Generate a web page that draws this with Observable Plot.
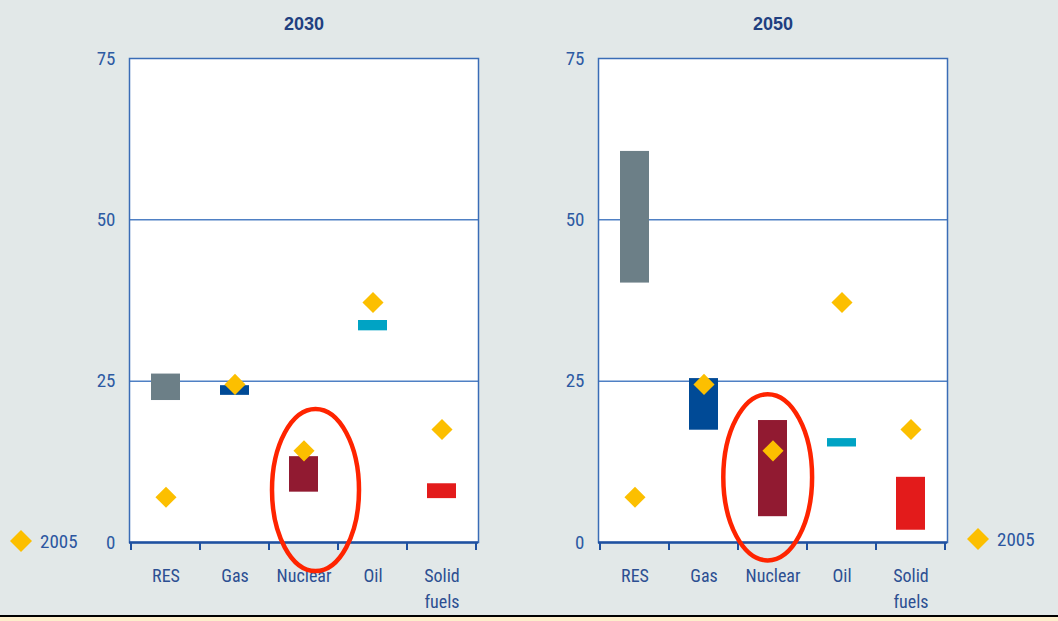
<!DOCTYPE html>
<html>
<head>
<meta charset="utf-8">
<script src="https://cdn.jsdelivr.net/npm/d3@7"></script>
<script src="https://cdn.jsdelivr.net/npm/@observablehq/plot@0.6"></script>
<style>
  html, body { margin: 0; padding: 0; }
  body {
    width: 1058px; height: 621px; position: relative; overflow: hidden;
    background: #e2e8e8;
    font-family: "Liberation Sans Narrow", "Roboto Condensed", Roboto, "Liberation Sans", sans-serif;
  }
  .panel { position: absolute; top: 0; }
  .legend {
    position: absolute; display: flex; align-items: center;
    font-size: 19px; color: #2b56a0; line-height: 1;
  }
  .legend svg { margin-right: 8px; }
  #footer {
    position: absolute; left: 0; top: 615px; width: 1058px; height: 6px;
    box-sizing: border-box; border-top: 2px solid #000; background: #fdeecb;
  }
</style>
</head>
<body>
<div id="left" class="panel" style="left:0px"></div>
<div id="right" class="panel" style="left:529px"></div>
<div class="legend" style="left:10px; top:530px"><svg width="22" height="22"><polygon points="11,0 22,11 11,22 0,11" fill="#fcbf00"/></svg>2005</div>
<div class="legend" style="left:967px; top:528px"><svg width="22" height="22"><polygon points="11,0 22,11 11,22 0,11" fill="#fcbf00"/></svg>2005</div>
<div id="footer"></div>
<script>
// Fuel categories and their axis labels
const categories = ["RES", "Gas", "Nuclear", "Oil", "Solid fuels"];
const tickLabels = ["RES", "Gas", "Nuclear", "Oil", "Solid\nfuels"];
const fuelColors = ["#6c7f87", "#004a96", "#911a31", "#00a3c4", "#e31b1b"];

// Share ranges (%) across scenarios: low and high ends
const low2030  = [22.0, 22.8,  7.8, 32.8, 6.8];
const high2030 = [26.1, 24.3, 13.3, 34.4, 9.1];
const low2050  = [40.2, 17.4,  4.0, 14.8, 1.9];
const high2050 = [60.6, 25.4, 18.9, 16.1, 10.1];

// 2005 reference shares (%)
const share2005 = [7.0, 24.5, 14.2, 37.2, 17.5];

const yTicks = [0, 25, 50, 75];
const gridValues = [25, 50];

const FONT = '"Liberation Sans Narrow", "Roboto Condensed", Roboto, "Liberation Sans", sans-serif';

function panel({year, low, high, marginLeft, marginRight, ring}) {
  const data = categories.map((fuel, i) => ({fuel, low: low[i], high: high[i], ref: share2005[i]}));

  const plot = Plot.plot({
    width: 529,
    height: 615,
    marginTop: 58,
    marginBottom: 73,
    marginLeft,
    marginRight,
    style: {background: "transparent", fontFamily: FONT, fontSize: "18px", color: "#2b56a0", overflow: "visible"},
    x: {domain: categories, padding: 0, axis: null},
    y: {domain: [0, 75], axis: null},
    color: {domain: categories, range: fuelColors},
    marks: [
      Plot.frame({fill: "white", stroke: null}),
      Plot.ruleY(gridValues, {stroke: "#4f80c4", strokeWidth: 1.5}),
      Plot.frame({stroke: "#3a6cb6", strokeWidth: 1.5}),
      Plot.ruleY([0], {stroke: "#1f51a0", strokeWidth: 2.5}),
      Plot.axisY(yTicks, {tickSize: 0, tickPadding: 14, fontSize: 19, fill: "#2d5aa3", tickFormat: d => String(d)}),
      Plot.barY(data, {x: "fuel", y1: "low", y2: "high", fill: "fuel", insetLeft: 20, insetRight: 20}),
      Plot.dot(data, {x: "fuel", y: "ref", symbol: "diamond2", r: 9.5, fill: "#fcbf00", stroke: null}),
      Plot.text(tickLabels, {x: categories, text: d => d, frameAnchor: "bottom", lineAnchor: "top", dy: 21, lineHeight: 1.45, fontSize: 18, fill: "#2c4f92"}),
      Plot.text([year], {text: d => d, frameAnchor: "top", lineAnchor: "middle", dy: -34, fontWeight: "bold", fontSize: 18, fill: "#1f3f80", fontFamily: '"Liberation Sans", Arial, sans-serif'})
    ]
  });

  const x = plot.scale("x");
  const y = plot.scale("y");
  const svg = d3.select(plot);
  const y0 = y.apply(0);

  // Category boundary ticks below the baseline
  const bounds = categories.map(c => x.apply(c));
  bounds.push(x.apply(categories[categories.length - 1]) + x.bandwidth);
  svg.append("g")
    .attr("stroke", "#1f51a0")
    .attr("stroke-width", 2)
    .selectAll("line")
    .data(bounds)
    .join("line")
      .attr("x1", d => d).attr("x2", d => d)
      .attr("y1", y0).attr("y2", y0 + 8);

  // Highlight ring around the nuclear range
  const cy1 = y.apply(ring.y1), cy2 = y.apply(ring.y2);
  svg.append("ellipse")
    .attr("cx", x.apply(ring.fuel) + x.bandwidth / 2 + ring.dx)
    .attr("cy", (cy1 + cy2) / 2)
    .attr("rx", ring.rx)
    .attr("ry", Math.abs(cy1 - cy2) / 2)
    .attr("fill", "none")
    .attr("stroke", "#ff2400")
    .attr("stroke-width", 4.5);

  return plot;
}

document.getElementById("left").append(panel({
  year: "2030", low: low2030, high: high2030, marginLeft: 129, marginRight: 51,
  ring: {fuel: "Nuclear", y1: -4.5, y2: 20.6, dx: 12, rx: 43.5}
}));
document.getElementById("right").append(panel({
  year: "2050", low: low2050, high: high2050, marginLeft: 69, marginRight: 111,
  ring: {fuel: "Nuclear", y1: -2.85, y2: 22.9, dx: -4.8, rx: 44.4}
}));
</script>
</body>
</html>
